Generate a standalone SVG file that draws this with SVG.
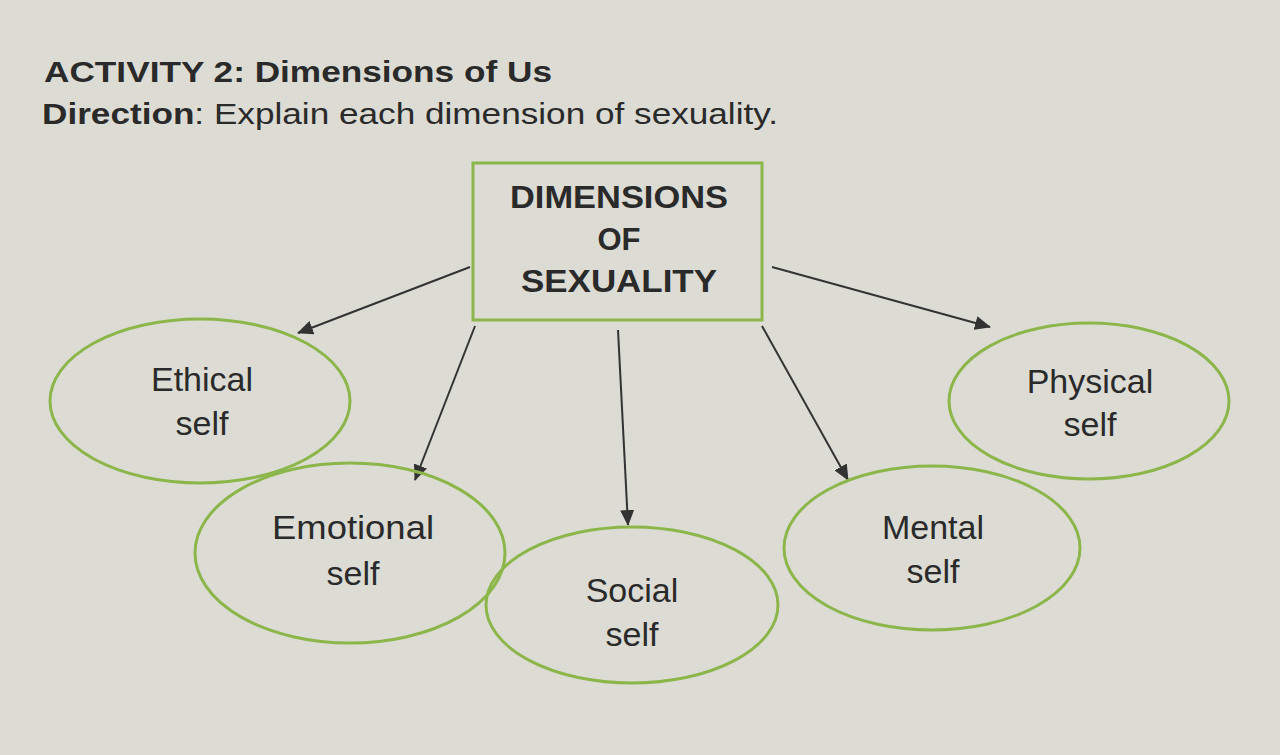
<svg xmlns="http://www.w3.org/2000/svg" width="1280" height="755" viewBox="0 0 1280 755">
<defs>
<style>
.t{font-family:"Liberation Sans",Arial,sans-serif;fill:#2a2a2a}
.n{fill:none;stroke:#8cb64a;stroke-width:3}
.c{stroke:#333;stroke-width:2;fill:none}
</style>
<marker id="a" markerWidth="16" markerHeight="14" refX="15" refY="7" orient="auto" markerUnits="userSpaceOnUse" viewBox="0 0 16 14"><path d="M0,0 L16,7 L0,14 z" fill="#333"/></marker>
</defs>
<rect width="1280" height="755" fill="#dcdcd5"/>
<text class="t" x="44" y="82" font-size="29" font-weight="bold" textLength="508" lengthAdjust="spacingAndGlyphs">ACTIVITY 2: Dimensions of Us</text>
<text class="t" x="42" y="124" font-size="30" textLength="736" lengthAdjust="spacingAndGlyphs"><tspan font-weight="bold">Direction</tspan>: Explain each dimension of sexuality.</text>
<g id="connectors">
<line class="c" x1="470" y1="267" x2="298" y2="333" marker-end="url(#a)"/>
<line class="c" x1="475" y1="326" x2="415" y2="480" marker-end="url(#a)"/>
<line class="c" x1="618" y1="330" x2="628" y2="525" marker-end="url(#a)"/>
<line class="c" x1="762" y1="326" x2="848" y2="480" marker-end="url(#a)"/>
<line class="c" x1="772" y1="267" x2="990" y2="327" marker-end="url(#a)"/>
</g>
<g id="root"><rect class="n" x="473" y="163" width="289" height="157"/>
<text class="t" font-size="31" font-weight="bold" text-anchor="middle"><tspan x="619" y="208" textLength="218" lengthAdjust="spacingAndGlyphs">DIMENSIONS</tspan><tspan x="619" y="250">OF</tspan><tspan x="619" y="292" textLength="196" lengthAdjust="spacingAndGlyphs">SEXUALITY</tspan></text></g>
<g id="ethical"><ellipse class="n" cx="200" cy="401" rx="150" ry="82"/><text class="t" font-size="34" text-anchor="middle"><tspan x="202" y="391">Ethical</tspan><tspan x="202" y="435">self</tspan></text></g>
<g id="emotional"><ellipse class="n" cx="350" cy="553" rx="155" ry="90"/><text class="t" font-size="34" text-anchor="middle"><tspan x="353" y="539" textLength="162" lengthAdjust="spacingAndGlyphs">Emotional</tspan><tspan x="353" y="585">self</tspan></text></g>
<g id="social"><ellipse class="n" cx="632" cy="605" rx="146" ry="78"/><text class="t" font-size="34" text-anchor="middle"><tspan x="632" y="602">Social</tspan><tspan x="632" y="646">self</tspan></text></g>
<g id="mental"><ellipse class="n" cx="932" cy="548" rx="148" ry="82"/><text class="t" font-size="34" text-anchor="middle"><tspan x="933" y="539">Mental</tspan><tspan x="933" y="583">self</tspan></text></g>
<g id="physical"><ellipse class="n" cx="1089" cy="401" rx="140" ry="78"/><text class="t" font-size="34" text-anchor="middle"><tspan x="1090" y="393">Physical</tspan><tspan x="1090" y="436">self</tspan></text></g>
</svg>
